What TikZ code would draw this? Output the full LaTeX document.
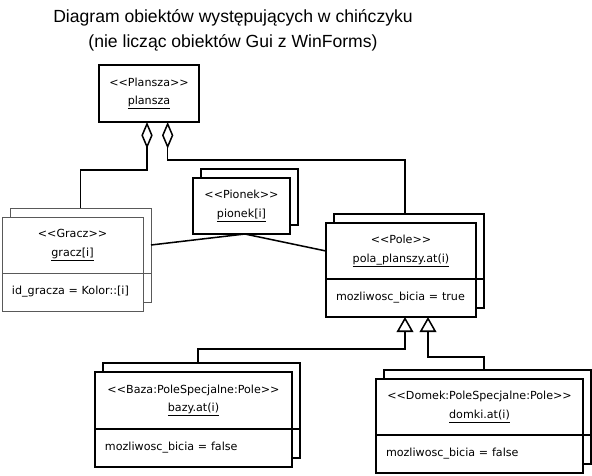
\documentclass[tikz,border=0pt]{standalone}
\usepackage{fontspec}
\setmainfont{DejaVu Sans}
\newfontfamily\titlefont{Liberation Sans}
\usetikzlibrary{arrows.meta, positioning, fit, backgrounds}

\newcommand{\stereo}[1]{<\kern0pt<#1>\kern0pt>}

\begin{document}
\begin{tikzpicture}[x=0.03cm, y=-0.03cm,
    head/.style={rectangle, draw=black, fill=white, line width=1.3pt, outer sep=0pt,
                 inner sep=0pt, align=center, minimum height=1.68cm,
                 font=\fontsize{9.5}{16}\selectfont},
    attr/.style={rectangle, draw=black, fill=white, line width=1.3pt, outer sep=0pt,
                 inner xsep=0.3cm, inner ysep=0pt, align=left, minimum height=1.14cm,
                 font=\fontsize{9.5}{12}\selectfont},
    back/.style={rectangle, draw=black, fill=white, line width=1.3pt, outer sep=0pt,
                 inner sep=0pt, xshift=0.24cm, yshift=0.27cm},
    greybox/.style={line width=0.6pt, draw=black!65},
    link/.style={line width=1.3pt},
    aggr/.style={{Diamond[open, length=0.8cm, width=0.34cm]}-, line width=1.3pt},
    gener/.style={{Triangle[open, length=0.45cm, width=0.5cm]}-, line width=1.3pt}]

    \useasboundingbox (0,0) rectangle (592,475);

    % title
    \node[font=\titlefont\fontsize{15}{21.5}\selectfont, align=center] (title) at (233,30)
        {Diagram obiektów występujących w chińczyku\\(nie licząc obiektów Gui z WinForms)};

    % objects
    \node[head, minimum width=3cm, minimum height=1.71cm] (plansza) at (149,93.5)
        {\stereo{Plansza}\\\underline{plansza}};

    \node[head, greybox, minimum width=4.23cm] (gracz) at (72.5,245)
        {\stereo{Gracz}\\\underline{gracz[i]}};
    \node[attr, greybox, text width=3.63cm, below=0pt of gracz] (graczAttr)
        {id\_gracza = Kolor::[i]};

    \node[head, minimum width=2.91cm] (pionek) at (241.5,206)
        {\stereo{Pionek}\\\underline{pionek[i]}};

    \node[head, minimum width=4.5cm] (pole) at (401,251)
        {\stereo{Pole}\\\underline{pola\_planszy.at(i)}};
    \node[attr, text width=3.9cm, below=0pt of pole] (poleAttr)
        {mozliwosc\_bicia = true};

    \node[head, minimum width=5.91cm, minimum height=1.71cm] (baza) at (193.5,400.5)
        {\stereo{Baza:PoleSpecjalne:Pole}\\\underline{bazy.at(i)}};
    \node[attr, text width=5.31cm, below=0pt of baza] (bazaAttr)
        {mozliwosc\_bicia = false};

    \node[head, minimum width=6.21cm] (domek) at (479.5,407)
        {\stereo{Domek:PoleSpecjalne:Pole}\\\underline{domki.at(i)}};
    \node[attr, text width=5.61cm, below=0pt of domek] (domekAttr)
        {mozliwosc\_bicia = false};

    % copies behind the objects
    \begin{scope}[on background layer]
        \node[back, greybox, fit=(gracz)(graczAttr)] (graczBack) {};
        \node[back, fit=(pionek)] (pionekBack) {};
        \node[back, fit=(pole)(poleAttr)] (poleBack) {};
        \node[back, fit=(baza)(bazaAttr)] (bazaBack) {};
        \node[back, fit=(domek)(domekAttr)] (domekBack) {};
    \end{scope}
    \draw[greybox] (graczAttr.north east) -- (graczAttr.north east -| graczBack.east);
    \draw[link] (poleAttr.north east) -- (poleAttr.north east -| poleBack.east);
    \draw[link] (bazaAttr.north east) -- (bazaAttr.north east -| bazaBack.east);
    \draw[link] (domekAttr.north east) -- (domekAttr.north east -| domekBack.east);

    % connections
    \draw[aggr] ([xshift=-0.06cm]plansza.south) -- ++(0,48) -| (graczBack.north);
    \draw[aggr] ([xshift=0.56cm]plansza.south) -- ++(0,38) -| ([xshift=-0.12cm]poleBack.north);
    \draw[link] (graczBack.east |- gracz.east) -- ([xshift=0.1cm]pionek.south) -- (pole.west);
    \draw[gener] ([xshift=0.12cm]poleAttr.south) -- ++(0,32) -| ([xshift=-0.1cm]bazaBack.north);
    \draw[gener] ([xshift=0.81cm]poleAttr.south) -- ++(0,40) -| ([xshift=-0.1cm]domekBack.north);

\end{tikzpicture}
\end{document}
